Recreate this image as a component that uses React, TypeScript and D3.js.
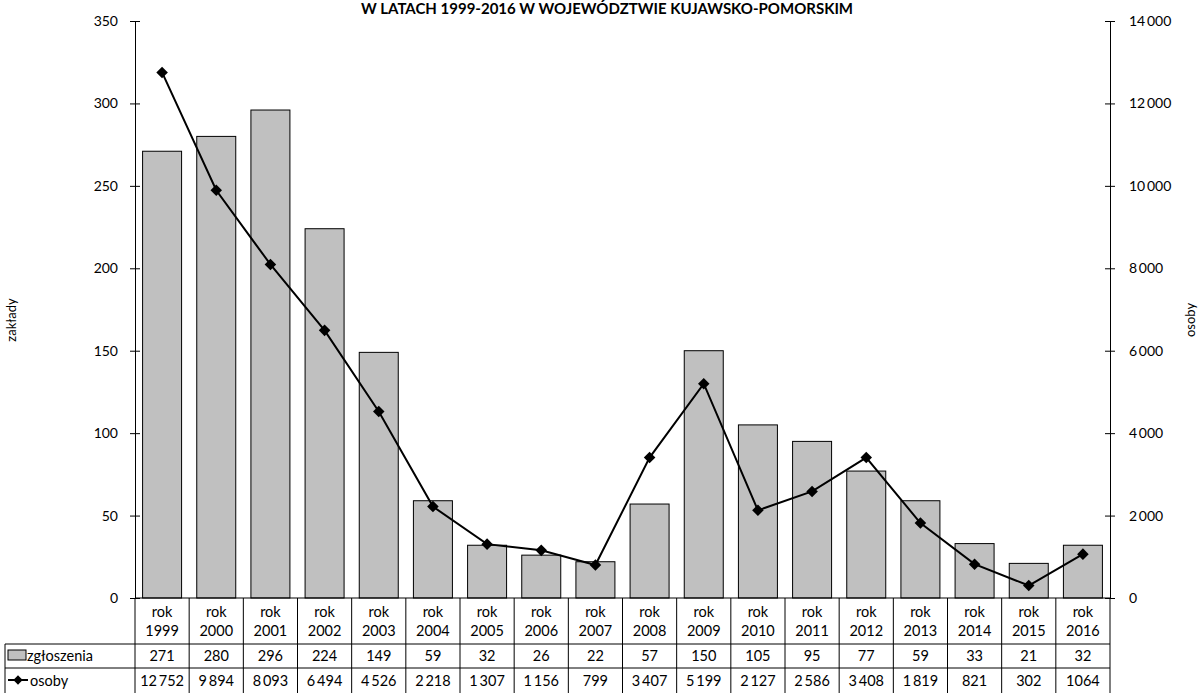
import React, { useEffect, useRef } from 'react';
import * as d3 from 'd3';

const years = ['1999', '2000', '2001', '2002', '2003', '2004', '2005', '2006', '2007', '2008', '2009', '2010', '2011', '2012', '2013', '2014', '2015', '2016'];
const zgloszenia = [271, 280, 296, 224, 149, 59, 32, 26, 22, 57, 150, 105, 95, 77, 59, 33, 21, 32];
const osoby = [12752, 9894, 8093, 6494, 4526, 2218, 1307, 1156, 799, 3407, 5199, 2127, 2586, 3408, 1819, 821, 302, 1064];
const osobyLabels = ['12 752', '9 894', '8 093', '6 494', '4 526', '2 218', '1 307', '1 156', '799', '3 407', '5 199', '2 127', '2 586', '3 408', '1 819', '821', '302', '1064'];
const leftTicks = [0, 50, 100, 150, 200, 250, 300, 350];
const rightTicks = [0, 2000, 4000, 6000, 8000, 10000, 12000, 14000];

const W = 1202;
const H = 693;
const FONT = 'Lato, "Open Sans", sans-serif';

const App: React.FC = () => {
    const ref = useRef<SVGSVGElement>(null);

    useEffect(() => {
        const svg = d3.select(ref.current);
        svg.selectAll('*').remove();

        const left = 135;
        const right = 1110;
        const top = 21;
        const base = 598;
        const legendLeft = 5;
        const row1 = 644;
        const row2 = 668;
        const row3 = 693;

        const x = d3.scaleBand().domain(years).range([left, right]).paddingInner(0.28).paddingOuter(0.14);
        const xStep = d3.scaleBand().domain(years).range([left, right]);
        const yL = d3.scaleLinear().domain([0, 350]).range([base, top]);
        const yR = d3.scaleLinear().domain([0, 14000]).range([base, top]);

        const fmt = d3.formatLocale({ thousands: '\u2009', grouping: [3], decimal: ',', currency: ['', ''] }).format(',d');

        // title
        svg.append('text')
            .attr('x', 607)
            .attr('y', 14)
            .attr('text-anchor', 'middle')
            .style('font-family', FONT)
            .style('font-size', '15px')
            .style('font-weight', 'bold')
            .text('W LATACH 1999-2016 W WOJEWÓDZTWIE KUJAWSKO-POMORSKIM');

        // bars
        svg.append('g')
            .selectAll('rect')
            .data(zgloszenia)
            .join('rect')
            .attr('x', (_, i) => x(years[i]) ?? 0)
            .attr('y', (d) => yL(d))
            .attr('width', x.bandwidth())
            .attr('height', (d) => base - yL(d))
            .attr('fill', '#c0c0c0')
            .attr('stroke', '#000')
            .attr('stroke-width', 1);

        // left axis
        const la = svg.append('g').attr('transform', `translate(${left},0)`)
            .call(d3.axisLeft(yL).tickValues(leftTicks).tickSizeInner(5).tickSizeOuter(0).tickPadding(12));
        la.selectAll('.tick line').attr('x2', 5).attr('x1', -5);
        la.select('.domain').attr('stroke', '#000');
        la.selectAll('text').style('font-family', FONT).style('font-size', '14px').attr('fill', '#000');

        // right axis
        const ra = svg.append('g').attr('transform', `translate(${right},0)`)
            .call(d3.axisRight(yR).tickValues(rightTicks).tickFormat((d) => fmt(d as number)).tickSizeInner(5).tickSizeOuter(0).tickPadding(14));
        ra.selectAll('.tick line').attr('x1', -5).attr('x2', 5);
        ra.select('.domain').attr('stroke', '#000');
        ra.selectAll('text').style('font-family', FONT).style('font-size', '14px').attr('fill', '#000');

        // axis titles
        svg.append('text')
            .attr('transform', `translate(16,320) rotate(-90)`)
            .attr('text-anchor', 'middle')
            .style('font-family', FONT)
            .style('font-size', '13px')
            .text('zakłady');
        svg.append('text')
            .attr('transform', `translate(1195,320) rotate(-90)`)
            .attr('text-anchor', 'middle')
            .style('font-family', FONT)
            .style('font-size', '13px')
            .text('osoby');

        // line
        const cx = (i: number) => (xStep(years[i]) ?? 0) + xStep.bandwidth() / 2;
        const line = d3.line<number>().x((_, i) => cx(i)).y((d) => yR(d));
        svg.append('path')
            .datum(osoby)
            .attr('d', line)
            .attr('fill', 'none')
            .attr('stroke', '#000')
            .attr('stroke-width', 2);
        svg.append('g')
            .selectAll('path')
            .data(osoby)
            .join('path')
            .attr('d', d3.symbol(d3.symbolDiamond2, 85))
            .attr('transform', (d, i) => `translate(${cx(i)},${yR(d)})`)
            .attr('fill', '#000');

        // data table
        const tbl = svg.append('g').attr('stroke', '#000').attr('stroke-width', 1);
        tbl.append('line').attr('x1', left).attr('x2', right).attr('y1', base).attr('y2', base);
        [row1, row2].forEach((yy) => {
            tbl.append('line').attr('x1', legendLeft).attr('x2', right).attr('y1', yy).attr('y2', yy);
        });
        tbl.append('line').attr('x1', legendLeft).attr('x2', legendLeft).attr('y1', row1).attr('y2', row3);
        years.forEach((yr) => {
            const x0 = xStep(yr) ?? 0;
            tbl.append('line').attr('x1', x0).attr('x2', x0).attr('y1', base).attr('y2', row3);
        });
        tbl.append('line').attr('x1', right).attr('x2', right).attr('y1', base).attr('y2', row3);

        const tg = svg.append('g').style('font-family', FONT).style('font-size', '14.5px').attr('text-anchor', 'middle');
        years.forEach((yr, i) => {
            tg.append('text').attr('x', cx(i)).attr('y', 617).text('rok');
            tg.append('text').attr('x', cx(i)).attr('y', 636).text(yr);
            tg.append('text').attr('x', cx(i)).attr('y', 661).text(String(zgloszenia[i]));
            tg.append('text').attr('x', cx(i)).attr('y', 686).text(osobyLabels[i].replace(' ', '\u2009'));
        });

        // legend keys
        svg.append('rect')
            .attr('x', 8).attr('y', 650).attr('width', 18).attr('height', 10)
            .attr('fill', '#c0c0c0').attr('stroke', '#000');
        svg.append('text').attr('x', 27).attr('y', 661)
            .style('font-family', FONT).style('font-size', '14.5px').text('zgłoszenia');
        svg.append('line').attr('x1', 8).attr('x2', 28).attr('y1', 680).attr('y2', 680)
            .attr('stroke', '#000').attr('stroke-width', 2);
        svg.append('path').attr('d', d3.symbol(d3.symbolDiamond2, 55))
            .attr('transform', 'translate(18,680)').attr('fill', '#000');
        svg.append('text').attr('x', 30).attr('y', 686)
            .style('font-family', FONT).style('font-size', '14.5px').text('osoby');
    }, []);

    return (
        <svg
            ref={ref}
            width={W}
            height={H}
            style={{ position: 'absolute', left: 0, top: 0, background: '#fff' }}
        />
    );
};

export default App;
